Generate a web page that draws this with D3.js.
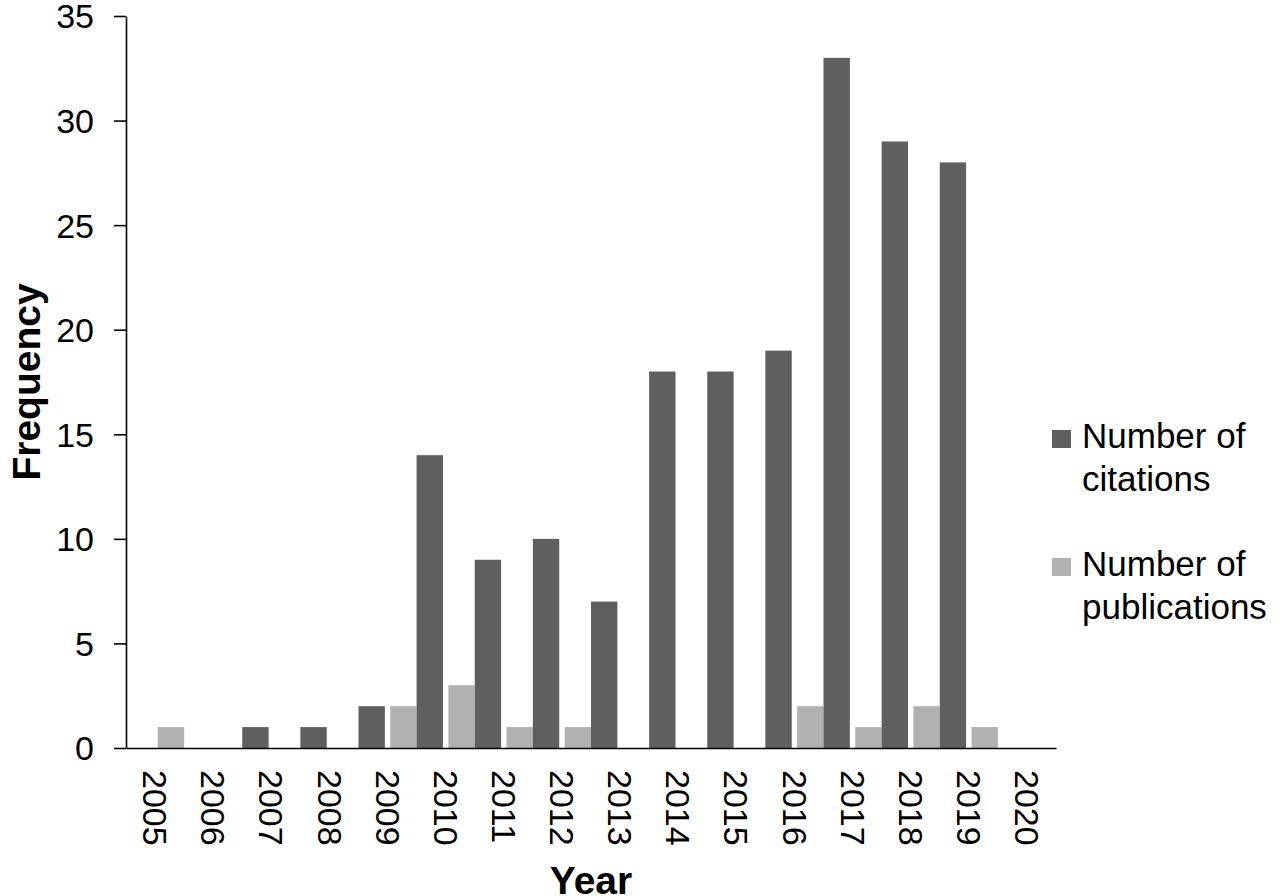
<!DOCTYPE html>
<meta charset="utf-8">
<style>
    body { margin: 0; background: #fff; }
    text { font-family: "Liberation Sans", Arial, sans-serif; fill: #000; }
    .axis path, .axis line { stroke: #000; stroke-width: 1.6px; }
    .axis text { font-size: 34px; }
    .title { font-size: 39px; font-weight: bold; }
    .legend text { font-size: 35px; }
</style>
<body>
<script src="https://d3js.org/d3.v7.min.js"></script>
<script>
    var years = ["2005","2006","2007","2008","2009","2010","2011","2012",
                 "2013","2014","2015","2016","2017","2018","2019","2020"];
    var citations    = [0, 0, 1, 1, 2, 14, 9, 10, 7, 18, 18, 19, 33, 29, 28, 0];
    var publications = [1, 0, 0, 0, 2, 3, 1, 1, 0, 0, 0, 2, 1, 2, 1, 0];
    var seriesNames  = ["Number of citations", "Number of publications"];
    var yTicks = [0, 5, 10, 15, 20, 25, 30, 35];

    var color = {
        "Number of citations": "#5f5f5f",
        "Number of publications": "#b1b1b1"
    };

    var data = years.map(function(y, i) {
        return { year: y, values: [
            { key: seriesNames[0], value: citations[i] },
            { key: seriesNames[1], value: publications[i] }
        ]};
    });

    var svg = d3.select("body").append("svg").attr("width", 1280).attr("height", 896);

    var x0 = d3.scaleBand().domain(years).range([126, 1056]).padding(0);
    var x1 = d3.scaleBand().domain(seriesNames).range([0, x0.bandwidth()]).paddingInner(0.17);
    var y = d3.scaleLinear().domain([0, 35]).range([748, 16]);

    // bars
    svg.append("g").selectAll("g")
        .data(data)
        .join("g")
        .attr("transform", d => "translate(" + x0(d.year) + ",0)")
        .selectAll("rect")
        .data(d => d.values.filter(v => v.value > 0))
        .join("rect")
        .attr("x", d => x1(d.key))
        .attr("width", x1.bandwidth())
        .attr("y", d => y(d.value))
        .attr("height", d => y(0) - y(d.value))
        .attr("fill", d => color[d.key]);

    // y axis
    var yAxis = svg.append("g").attr("class", "axis")
        .attr("transform", "translate(126,0)")
        .call(d3.axisLeft(y).tickValues(yTicks).tickSize(12).tickPadding(20).tickSizeOuter(0));
    yAxis.selectAll("text").attr("dy", "0.35em");

    // x axis
    var xAxis = svg.append("g").attr("class", "axis")
        .attr("transform", "translate(0,748)")
        .call(d3.axisBottom(x0).tickSize(0).tickSizeOuter(0));
    xAxis.selectAll("text")
        .attr("text-anchor", "start")
        .attr("transform", "translate(0,22) rotate(90)")
        .attr("x", 0)
        .attr("y", 0)
        .attr("dy", "0.35em");

    // axis titles
    svg.append("text").attr("class", "title")
        .attr("x", 591).attr("y", 894)
        .attr("text-anchor", "middle")
        .text("Year");

    svg.append("text").attr("class", "title")
        .attr("transform", "translate(40,382) rotate(-90)")
        .attr("text-anchor", "middle")
        .text("Frequency");

    // legend
    var legend = svg.append("g").attr("class", "legend")
        .selectAll("g")
        .data(seriesNames)
        .join("g")
        .attr("transform", (d, i) => "translate(1052," + (430 + i * 128) + ")");

    legend.append("rect")
        .attr("width", 19).attr("height", 18)
        .attr("fill", d => color[d]);

    legend.each(function(d) {
        var words = d.split(" ");
        var t = d3.select(this).append("text").attr("x", 30).attr("y", 18);
        t.append("tspan").attr("x", 30).text(words.slice(0, 2).join(" "));
        t.append("tspan").attr("x", 30).attr("dy", 43).text(words.slice(2).join(" "));
    });
</script>
</body>
